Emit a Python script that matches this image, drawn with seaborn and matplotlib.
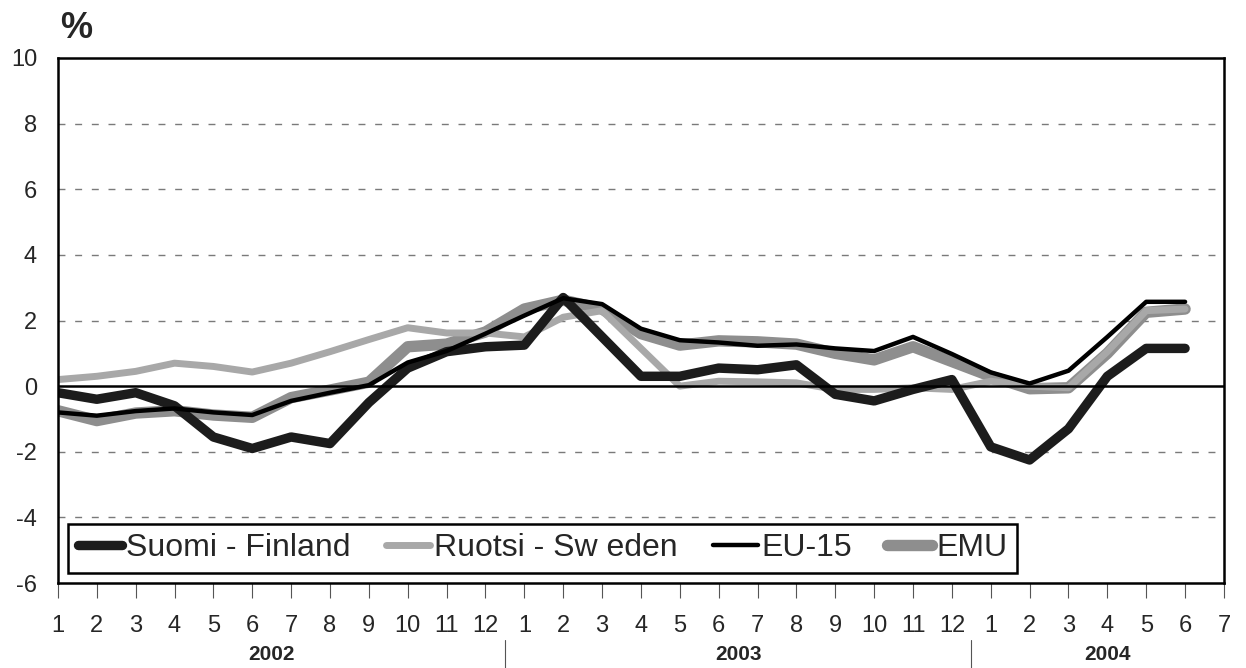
#!/usr/bin/env python3
"""Monthly change (%) 2002-2004: Finland, Sweden, EU-15 and EMU."""

import matplotlib

matplotlib.use("Agg")

import matplotlib.pyplot as plt
import matplotlib.transforms as mtransforms
import numpy as np
import pandas as pd
import seaborn as sns
from matplotlib.lines import Line2D

# --- data ------------------------------------------------------------------
years = ["2002", "2003", "2004"]
months_per_year = [12, 12, 7]  # axis categories shown per year

finland = [-0.2, -0.4, -0.2, -0.6, -1.55, -1.9, -1.55, -1.75, -0.5, 0.55,
           1.05, 1.2, 1.25, 2.7, 1.5, 0.3, 0.3, 0.55, 0.5, 0.65,
           -0.25, -0.45, -0.1, 0.2, -1.85, -2.25, -1.3, 0.3, 1.15, 1.15]
sweden = [0.2, 0.3, 0.45, 0.7, 0.6, 0.43, 0.7, 1.05, 1.42, 1.78,
          1.62, 1.62, 1.5, 2.1, 2.3, 1.15, 0.0, 0.15, 0.13, 0.1,
          -0.1, -0.1, -0.05, -0.1, 0.15, 0.0, -0.05, 1.05, 2.3, 2.35]
eu15 = [-0.8, -0.9, -0.76, -0.68, -0.8, -0.88, -0.45, -0.2, 0.03, 0.72,
        1.07, 1.6, 2.15, 2.68, 2.5, 1.75, 1.4, 1.33, 1.23, 1.27,
        1.15, 1.07, 1.5, 0.98, 0.42, 0.08, 0.47, 1.5, 2.57, 2.57]
emu = [-0.75, -1.05, -0.82, -0.75, -0.88, -0.95, -0.35, -0.12, 0.12, 1.2,
       1.28, 1.65, 2.35, 2.62, 2.35, 1.6, 1.25, 1.38, 1.35, 1.28,
       1.0, 0.8, 1.2, 0.75, 0.3, -0.08, -0.05, 1.0, 2.25, 2.35]

series_names = ["Suomi - Finland", "Ruotsi - Sw eden", "EU-15", "EMU"]
series_values = [finland, sweden, eu15, emu]

# styling per series
colors = {"Suomi - Finland": "#1c1c1c", "Ruotsi - Sw eden": "#a8a8a8",
          "EU-15": "#000000", "EMU": "#8e8e8e"}
widths = {"Suomi - Finland": 6.8, "Ruotsi - Sw eden": 5.0,
          "EU-15": 3.2, "EMU": 8.2}
draw_order = ["EMU", "Ruotsi - Sw eden", "Suomi - Finland", "EU-15"]


def build_frame() -> pd.DataFrame:
    """Long-format table: one row per (series, month position)."""
    positions = np.arange(1, len(finland) + 1)
    frames = [pd.DataFrame({"pos": positions, "value": vals, "series": name})
              for name, vals in zip(series_names, series_values)]
    return pd.concat(frames, ignore_index=True)


def main() -> None:
    df = build_frame()

    sns.set_theme(style="white")
    plt.rcParams["font.family"] = ["Liberation Sans", "DejaVu Sans"]
    plt.rcParams["axes.unicode_minus"] = False

    fig = plt.figure(figsize=(12.46, 6.68), dpi=100)
    ax = fig.add_axes([0.0465, 0.1272, 0.9358, 0.7860])

    # dashed gridlines + solid zero line
    for y in [-4, -2, 2, 4, 6, 8]:
        ax.axhline(y, color="#7a7a7a", lw=1.0, ls=(0, (5, 7)), zorder=0)

    sns.lineplot(data=df, x="pos", y="value", hue="series", size="series",
                 hue_order=draw_order, size_order=draw_order,
                 palette=colors, sizes=widths, estimator=None, sort=False,
                 legend=False, ax=ax)
    for line in ax.lines:
        line.set_solid_capstyle("round")

    ax.axhline(0, color="black", lw=1.8, zorder=3)

    # axes
    n_cats = sum(months_per_year)
    month_labels = [str(m) for n in months_per_year for m in range(1, n + 1)]
    ax.set_xlim(1, n_cats)
    ax.set_ylim(-6, 10)
    ax.set_xticks(range(1, n_cats + 1))
    ax.set_xticklabels(month_labels)
    ax.set_yticks(range(-6, 11, 2))
    ax.set_xlabel("")
    ax.set_ylabel("")
    ax.tick_params(axis="x", direction="out", length=11, width=0.8,
                   color="#555555", pad=12, labelsize=17, bottom=True)
    ax.tick_params(axis="y", length=0, pad=15, labelsize=17)
    for spine in ax.spines.values():
        spine.set_color("black")
        spine.set_linewidth(1.8)

    # year labels and separators under the month labels
    trans = mtransforms.blended_transform_factory(ax.transData, ax.transAxes)
    start = 0.5
    for i, (year, n) in enumerate(zip(years, months_per_year)):
        end = start + n
        ax.text((start + end) / 2, -0.136, year, transform=trans,
                ha="center", va="center", fontsize=15, fontweight="bold")
        if i < len(years) - 1:
            ax.plot([end, end], [-0.108, -0.165], transform=trans,
                    color="#555555", lw=0.8, clip_on=False)
        start = end

    # legend
    handles = [Line2D([], [], color=colors[s], lw=widths[s],
                      solid_capstyle="round") for s in series_names]
    leg = ax.legend(handles, series_names, loc="lower left",
                    bbox_to_anchor=(0.0086, 0.019), borderaxespad=0,
                    ncol=4, fontsize=23, handlelength=1.4,
                    handletextpad=0.12, columnspacing=1.1, borderpad=0.3,
                    fancybox=False, framealpha=1, edgecolor="black")
    leg.get_frame().set_linewidth(1.8)

    fig.text(0.048, 0.958, "%", fontsize=26, fontweight="bold",
             ha="left", va="center")

    fig.savefig("out.png", dpi=100)
    plt.close(fig)


if __name__ == "__main__":
    main()
